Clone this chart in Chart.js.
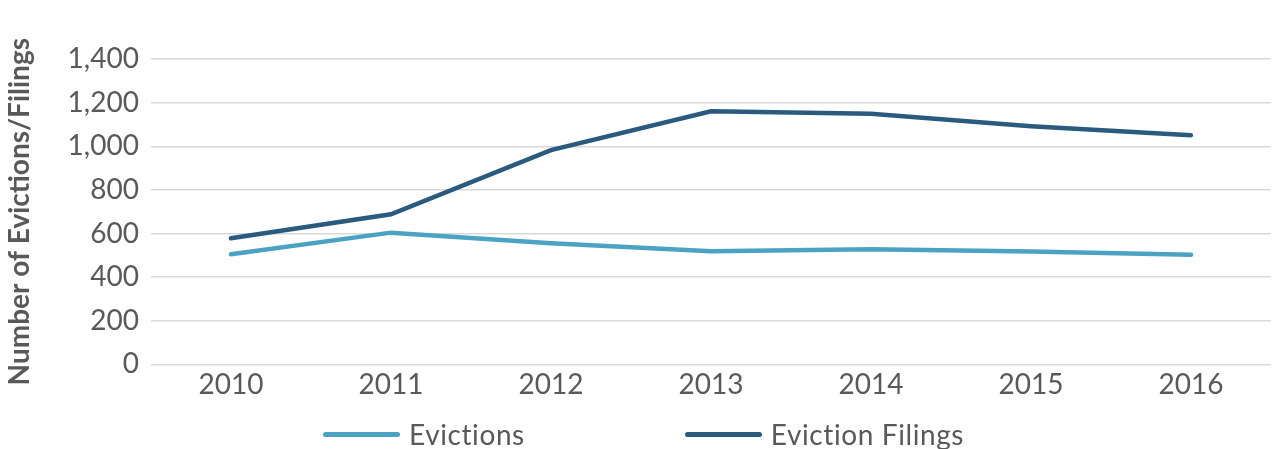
<!DOCTYPE html>
<html>
<head>
<meta charset="utf-8">
<script src="https://cdn.jsdelivr.net/npm/chart.js@4"></script>
<style>
  html, body { margin: 0; padding: 0; background: #fff; }
  #wrap { position: relative; width: 1272px; height: 449px; }
  #legend {
    position: absolute; left: 323px; top: 417px;
    display: flex; gap: 160px;
    font-family: Lato, "Open Sans", sans-serif; font-size: 28px; line-height: 34px;
    letter-spacing: 0.6px; color: #595959;
  }
  .legend-item { display: flex; align-items: center; white-space: nowrap; }
  .legend-line { display: inline-block; width: 77px; height: 5px; border-radius: 3px; margin-right: 9px; }
</style>
</head>
<body>
<div id="wrap">
  <canvas id="evChart" width="1272" height="449"></canvas>
  <div id="legend"></div>
</div>
<script>
// data
const years = ['2010', '2011', '2012', '2013', '2014', '2015', '2016'];
const evictions = [505, 604, 555, 519, 528, 518, 503];
const filings = [578, 688, 982, 1160, 1149, 1092, 1051];
const yTicks = [0, 200, 400, 600, 800, 1000, 1200, 1400];

const textColor = '#595959';
const fontFamily = 'Lato, "Open Sans", sans-serif';

const chart = new Chart(document.getElementById('evChart').getContext('2d'), {
  type: 'line',
  data: {
    labels: years,
    datasets: [
      {
        label: 'Evictions',
        data: evictions,
        borderColor: '#4BA3C3',
        backgroundColor: '#4BA3C3',
        borderWidth: 4.5,
        borderCapStyle: 'round',
        pointRadius: 0,
        tension: 0
      },
      {
        label: 'Eviction Filings',
        data: filings,
        borderColor: '#2A5A7E',
        backgroundColor: '#2A5A7E',
        borderWidth: 4.5,
        borderCapStyle: 'round',
        pointRadius: 0,
        tension: 0
      }
    ]
  },
  options: {
    responsive: false,
    animation: false,
    layout: { padding: { top: 59, right: 1, left: 3, bottom: 43 } },
    plugins: {
      tooltip: { enabled: false },
      legend: { display: false }
    },
    scales: {
      x: {
        offset: true,
        grid: { display: false, drawTicks: false },
        border: { display: false },
        ticks: {
          color: textColor,
          font: { family: fontFamily, size: 28 },
          padding: 4
        }
      },
      y: {
        min: 0,
        max: 1400,
        afterBuildTicks: axis => { axis.ticks = yTicks.map(v => ({ value: v })); },
        grid: { color: '#d9d9d9', lineWidth: 1.5, drawTicks: false },
        border: { display: false },
        ticks: {
          color: textColor,
          font: { family: fontFamily, size: 28 },
          padding: 12,
          autoSkip: false,
          callback: v => v.toLocaleString('en-US')
        },
        title: {
          display: true,
          text: 'Number of Evictions/Filings',
          color: textColor,
          font: { family: fontFamily, size: 28, weight: 'bold' },
          padding: { top: 0, bottom: 19 }
        }
      }
    }
  }
});

// legend below the plot, built from the datasets
document.getElementById('legend').innerHTML = chart.data.datasets.map(ds =>
  `<div class="legend-item"><span class="legend-line" style="background:${ds.borderColor}"></span>${ds.label}</div>`
).join('');
</script>
</body>
</html>
